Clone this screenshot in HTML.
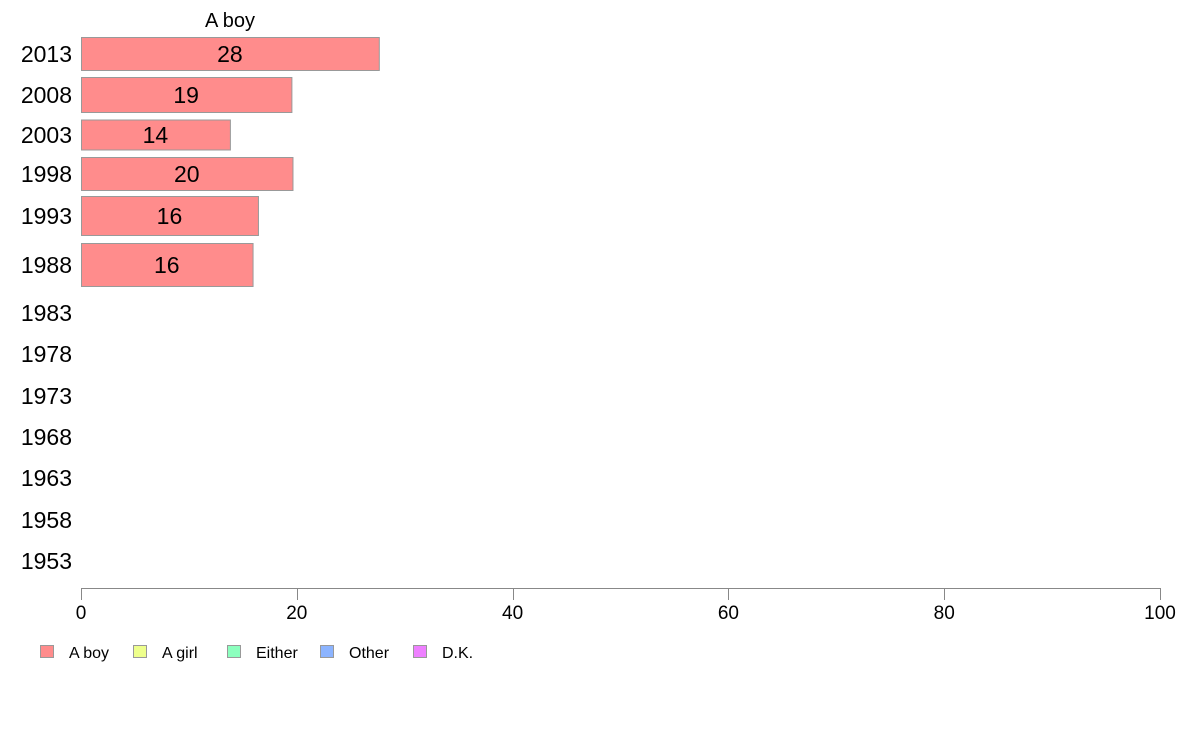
<!DOCTYPE html>
<html><head><meta charset="utf-8"><style>
body{margin:0;background:#fff;font-family:"Liberation Sans",Arial,sans-serif;}
</style></head><body>
<svg id="chart" width="1188" height="736" xmlns="http://www.w3.org/2000/svg" font-family="Liberation Sans, Arial, sans-serif">
<text x="230" y="27" font-size="20" text-anchor="middle" fill="#000">A boy</text>
<g id="bars"></g>
<g id="ylabels"></g>
<g id="xaxis"></g>
<g id="legend"></g>
</svg>
<script>
const years = ["2013","2008","2003","1998","1993","1988","1983","1978","1973","1968","1963","1958","1953"];
const boyValues = [27.6, 19.5, 13.8, 19.6, 16.4, 15.9, null, null, null, null, null, null, null];
const boyLabels = ["28","19","14","20","16","16","","","","","","",""];
const xTicks = [0, 20, 40, 60, 80, 100];
const legendNames = ["A boy","A girl","Either","Other","D.K."];
const legendColors = ["#ff8c8c","#eeff8c","#8cffbe","#8cb4ff","#ee80ff"];

// layout (not data)
const rowCenters = [54, 95, 135, 174, 216, 265, 313, 354, 396, 437, 478, 520, 561];
const barHeights = [33, 35, 30, 33, 39, 43, 0,0,0,0,0,0,0];
const x0 = 81, x1 = 1160;
function xs(v){ return x0 + (v/100)*(x1-x0); }
const NS = "http://www.w3.org/2000/svg";
function mk(tag, attrs, parent){ const e=document.createElementNS(NS,tag); for(const k in attrs) e.setAttribute(k,attrs[k]); parent.appendChild(e); return e; }

const gb = document.getElementById("bars"), gy = document.getElementById("ylabels");
years.forEach((y,i)=>{
  const t = mk("text",{x:72,y:rowCenters[i]+8,"font-size":23,"text-anchor":"end",fill:"#000"},gy);
  
  
  t.textContent = y;
  const v = boyValues[i];
  if (v != null) {
    const h = barHeights[i];
    const r = mk("rect",{x:xs(0)+0.5,y:rowCenters[i]-h/2,width:xs(v)-xs(0),height:h,fill:"#ff8c8c",stroke:"#999","stroke-width":1},gb);
    
    
    const lt = mk("text",{x:(xs(0)+xs(v))/2,y:rowCenters[i]+8,"font-size":23,"text-anchor":"middle",fill:"#000"},gb);
    
    
    lt.textContent = boyLabels[i];
  }
});

const gx = document.getElementById("xaxis");
const ax = mk("line",{x1:xs(0),x2:xs(100),y1:588.5,y2:588.5,stroke:"#888","stroke-width":1},gx);


xTicks.forEach(v=>{
  const tk = mk("line",{x1:Math.round(xs(v))+0.5,x2:Math.round(xs(v))+0.5,y1:588,y2:600,stroke:"#888","stroke-width":1},gx);
  
  
  const tl = mk("text",{x:xs(v),y:619,"font-size":19,"text-anchor":"middle",fill:"#000"},gx);
  
  
  tl.textContent = v;
});

const gl = document.getElementById("legend");
const boxX = [40, 133, 227, 320, 413];
legendNames.forEach((n,i)=>{
  const g = mk("g",{},gl);
  
  
  mk("rect",{x:boxX[i]+0.5,y:645.5,width:13,height:12,fill:legendColors[i],stroke:"#999","stroke-width":1},g);
  const t = mk("text",{x:boxX[i]+29,y:658,"font-size":16,fill:"#000"},g);
  t.textContent = n;
});
</script>
</body></html>
